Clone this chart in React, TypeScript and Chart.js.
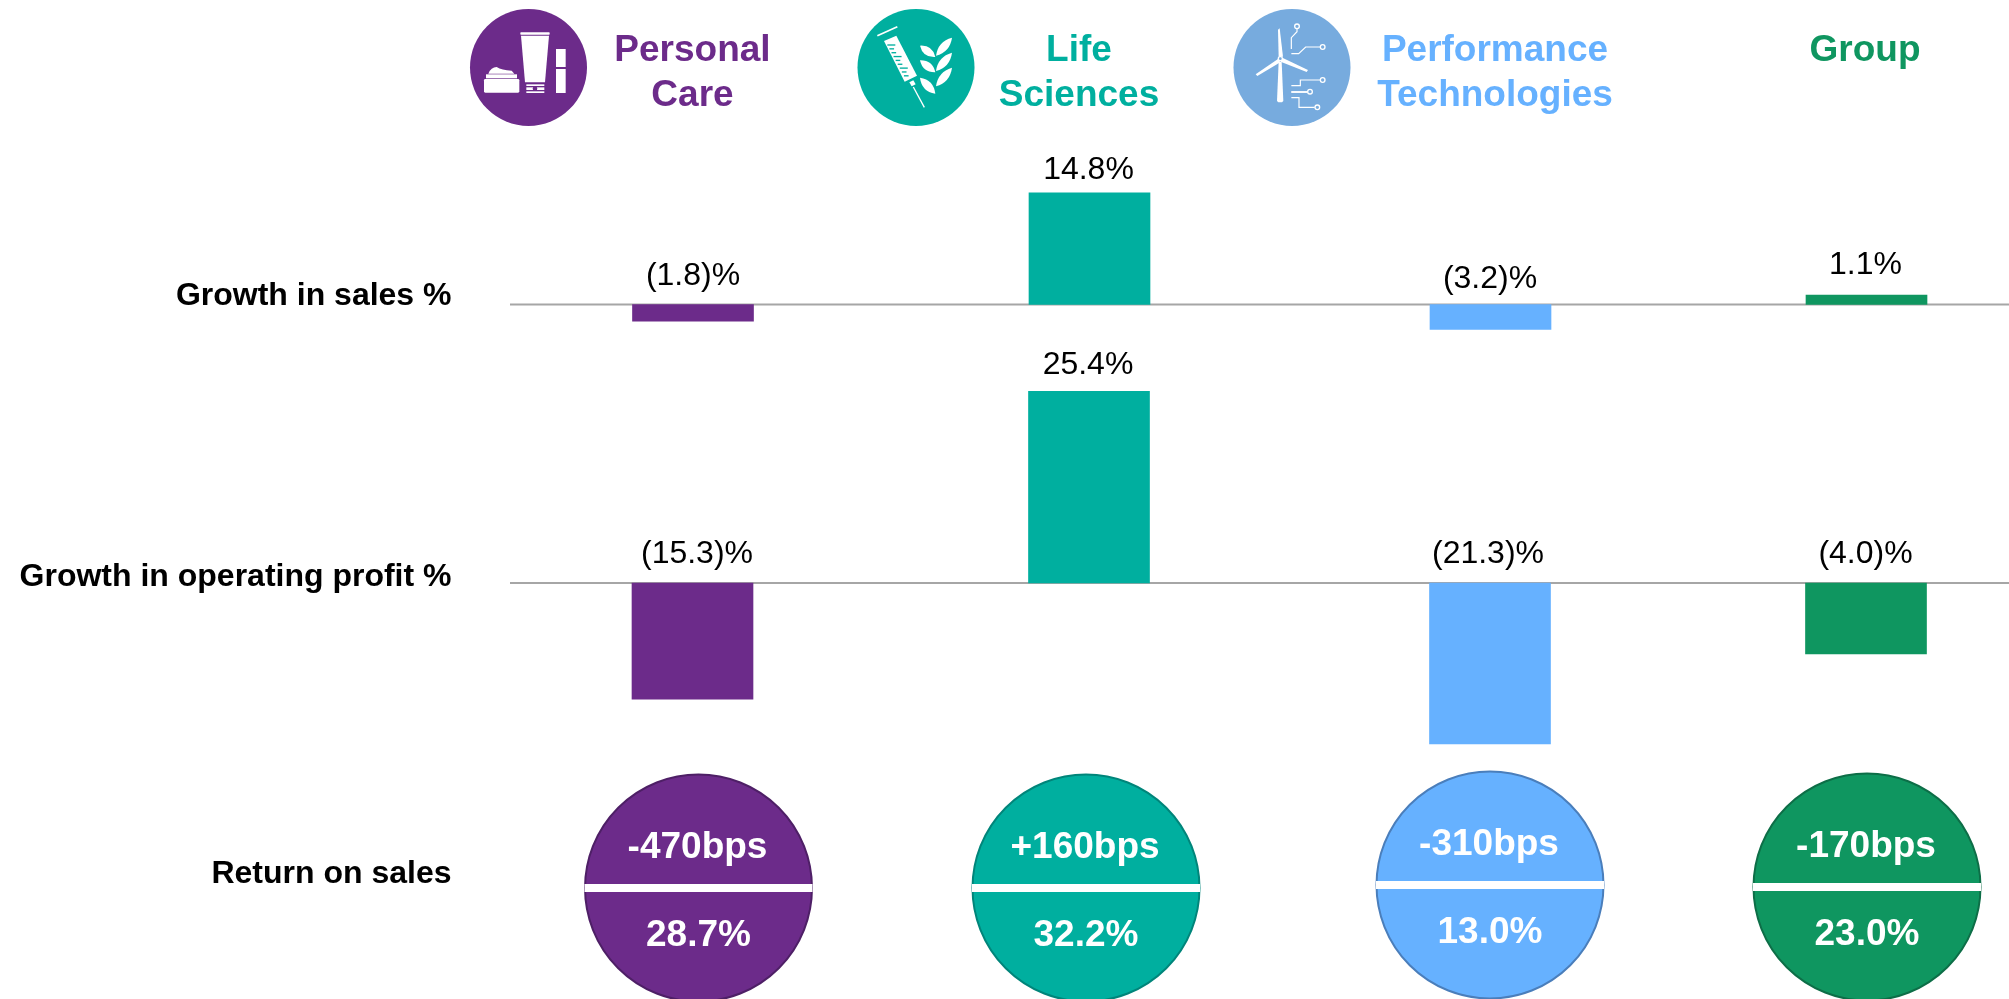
import React, { useEffect, useRef } from "react";
import { Chart, registerables } from "chart.js";

Chart.register(...registerables);

// ---- data ----
const segments = ["Personal Care", "Life Sciences", "Performance Technologies", "Group"];
const headerLines = [["Personal", "Care"], ["Life", "Sciences"], ["Performance", "Technologies"], ["Group"]];
const rowTitles = ["Growth in sales %", "Growth in operating profit %", "Return on sales"];
// bar lengths as drawn in the picture
const salesGrowthBars = [-2.2, 14.8, -3.3, 1.25];
const profitGrowthBars = [-15.4, 25.4, -21.3, -9.4];
// printed labels
const salesGrowthLabels = ["(1.8)%", "14.8%", "(3.2)%", "1.1%"];
const profitGrowthLabels = ["(15.3)%", "25.4%", "(21.3)%", "(4.0)%"];
const returnOnSales = [28.7, 32.2, 13.0, 23.0];
const bpsChange = [-470, 160, -310, -170];

// ---- layout and style (not data) ----
const W = 2009;
const H = 999;
const FONT = '"Liberation Sans", Arial, sans-serif';
const colors = ["#6C2B8A", "#00AF9F", "#66B1FF", "#0F9660"];
const circleBorders = ["#4E1F66", "#00857A", "#4A7EBB", "#0D6E47"];
const iconColors = ["#6C2B8A", "#00AF9F", "#77ABDE"];
const barCentres = [693, 1089.5, 1490.5, 1866.5];
const circleCentres = [698.5, 1086, 1490, 1867];
const circleLift = [0, 0, 3, 1];
const headerCentres = [692.5, 1079, 1495, 1865];
const iconCentres = [528.5, 916, 1292];
const iconOrigins = [465, 852, 1228];
const salesLabelPos: [number, number][] = [[693, 285], [1088.5, 179], [1490, 288], [1865.5, 274]];
const profitLabelPos: [number, number][] = [[697, 563], [1088, 374], [1488, 563], [1865.5, 563]];
const AXIS_1 = 304.5;
const AXIS_2 = 583;
const PX_PER_UNIT = 7.55;
const CIRCLE_Y = 888;

function leaf(ctx: CanvasRenderingContext2D, x1: number, y1: number, x2: number, y2: number, bulge: number) {
  const mx = (x1 + x2) / 2;
  const my = (y1 + y2) / 2;
  const dx = x2 - x1;
  const dy = y2 - y1;
  const nx = (-dy / Math.hypot(dx, dy)) * bulge;
  const ny = (dx / Math.hypot(dx, dy)) * bulge;
  ctx.beginPath();
  ctx.moveTo(x1, y1);
  ctx.quadraticCurveTo(mx + nx, my + ny, x2, y2);
  ctx.quadraticCurveTo(mx - nx, my - ny, x1, y1);
  ctx.fill();
}

function poly(ctx: CanvasRenderingContext2D, pts: number[][]) {
  ctx.beginPath();
  pts.forEach((p, i) => (i ? ctx.lineTo(p[0], p[1]) : ctx.moveTo(p[0], p[1])));
  ctx.closePath();
  ctx.fill();
}

function path(ctx: CanvasRenderingContext2D, pts: number[][]) {
  ctx.beginPath();
  pts.forEach((p, i) => (i ? ctx.lineTo(p[0], p[1]) : ctx.moveTo(p[0], p[1])));
  ctx.stroke();
}

function drawCareIcon(ctx: CanvasRenderingContext2D, bg: string) {
  ctx.fillRect(63, 208, 93, 12);
  ctx.beginPath();
  ctx.roundRect(57, 222, 106, 41, 4);
  ctx.fill();
  ctx.beginPath();
  ctx.moveTo(70, 206);
  ctx.quadraticCurveTo(78, 186, 95, 186);
  ctx.quadraticCurveTo(110, 196, 140, 197);
  ctx.lineTo(148, 206);
  ctx.closePath();
  ctx.fill();
  ctx.beginPath();
  ctx.roundRect(166, 82, 88, 7, 2);
  ctx.fill();
  poly(ctx, [[168, 92], [252, 92], [240, 232], [180, 232]]);
  ctx.fillRect(184, 238, 54, 5);
  ctx.fillRect(184, 247, 54, 8);
  ctx.fillRect(184, 259, 54, 5);
  ctx.fillStyle = bg;
  ctx.beginPath();
  ctx.arc(210, 251, 7, 0, Math.PI * 2);
  ctx.fill();
  ctx.fillStyle = "#fff";
  ctx.fillRect(273, 132, 29, 54);
  ctx.fillRect(273, 192, 29, 72);
}

function drawSciencesIcon(ctx: CanvasRenderingContext2D, bg: string) {
  ctx.lineWidth = 5;
  path(ctx, [[76, 92], [136, 65]]);
  poly(ctx, [[96, 108], [133, 92], [195, 212], [158, 230]]);
  ctx.fillStyle = bg;
  for (let i = 0; i < 9; i++) {
    const t = i / 9;
    const x = 106 + t * 56;
    const y = 118 + t * 104;
    ctx.fillRect(x, y, i % 3 === 0 ? 24 : 14, 4);
  }
  ctx.fillStyle = "#fff";
  poly(ctx, [[172, 232], [184, 226], [191, 238], [179, 244]]);
  ctx.lineWidth = 4;
  path(ctx, [[184, 246], [217, 307]]);
  leaf(ctx, 204, 122, 250, 156, 24);
  leaf(ctx, 204, 166, 250, 202, 24);
  leaf(ctx, 204, 218, 250, 266, 25);
  leaf(ctx, 300, 98, 252, 152, 24);
  leaf(ctx, 300, 143, 252, 198, 24);
  leaf(ctx, 300, 188, 252, 244, 24);
}

function drawPerformanceIcon(ctx: CanvasRenderingContext2D, bg: string) {
  poly(ctx, [[152, 170], [161, 170], [166, 288], [162, 292], [151, 292], [147, 288]]);
  poly(ctx, [[150, 74], [155, 70], [165, 155], [152, 155]]);
  poly(ctx, [[163, 158], [240, 195], [236, 201], [158, 170]]);
  poly(ctx, [[150, 162], [157, 172], [88, 213], [83, 208]]);
  ctx.beginPath();
  ctx.arc(157, 161, 8, 0, Math.PI * 2);
  ctx.fill();
  ctx.fillStyle = bg;
  ctx.beginPath();
  ctx.arc(157, 161, 4, 0, Math.PI * 2);
  ctx.fill();
  ctx.fillStyle = "#fff";
  ctx.lineWidth = 3.5;
  const traces = [
    [[190, 132], [190, 98], [207, 80], [207, 71]],
    [[190, 146], [212, 146], [233, 126], [276, 126]],
    [[190, 242], [217, 242], [217, 225], [276, 225]],
    [[190, 261], [238, 261]],
    [[190, 278], [213, 278], [213, 307], [260, 307]],
  ];
  traces.forEach((t) => path(ctx, t));
  ctx.lineWidth = 4;
  [[207, 64], [284, 126], [284, 225], [246, 260], [268, 307]].forEach(([x, y]) => {
    ctx.beginPath();
    ctx.arc(x, y, 7, 0, Math.PI * 2);
    ctx.stroke();
  });
  ctx.lineWidth = 5;
  path(ctx, [[190, 261], [238, 261]]);
}

const iconPainters = [drawCareIcon, drawSciencesIcon, drawPerformanceIcon];

const decorations = {
  id: "decorations",
  beforeDatasetsDraw(chart: any) {
    const { ctx, scales } = chart;
    ctx.save();
    ctx.strokeStyle = "#A6A6A6";
    ctx.lineWidth = 2;
    ["y1", "y2"].forEach((id) => {
      const y = scales[id].getPixelForValue(0);
      ctx.beginPath();
      ctx.moveTo(510, y);
      ctx.lineTo(W, y);
      ctx.stroke();
    });
    ctx.restore();
  },
  afterDatasetsDraw(chart: any) {
    const { ctx } = chart;
    ctx.save();
    // header icons
    iconCentres.forEach((cx, i) => {
      ctx.fillStyle = iconColors[i];
      ctx.beginPath();
      ctx.arc(cx, 67.5, 58.5, 0, Math.PI * 2);
      ctx.fill();
      ctx.save();
      ctx.translate(iconOrigins[i], 5);
      ctx.scale(1 / 3, 1 / 3);
      ctx.fillStyle = "#fff";
      ctx.strokeStyle = "#fff";
      iconPainters[i](ctx, iconColors[i]);
      ctx.restore();
    });
    // headers
    ctx.textAlign = "center";
    ctx.textBaseline = "alphabetic";
    ctx.font = `bold 37px ${FONT}`;
    headerLines.forEach((lines, i) => {
      ctx.fillStyle = colors[i];
      lines.forEach((t, j) => ctx.fillText(t, headerCentres[i], 61 + j * 45));
    });
    // row titles
    ctx.fillStyle = "#000";
    ctx.textAlign = "right";
    ctx.font = `bold 32px ${FONT}`;
    ctx.fillText(rowTitles[0], 451.5, 305);
    ctx.fillText(rowTitles[1], 451.5, 586);
    ctx.fillText(rowTitles[2], 451.5, 883);
    // bar labels
    ctx.textAlign = "center";
    ctx.font = `32px ${FONT}`;
    salesGrowthLabels.forEach((t, i) => ctx.fillText(t, salesLabelPos[i][0], salesLabelPos[i][1]));
    profitGrowthLabels.forEach((t, i) => ctx.fillText(t, profitLabelPos[i][0], profitLabelPos[i][1]));
    // circle contents
    const meta = chart.getDatasetMeta(2);
    meta.data.forEach((pt: any, i: number) => {
      const { x, y } = pt.getProps(["x", "y"], true);
      ctx.fillStyle = "#fff";
      ctx.fillRect(x - 114, y - 4, 228, 8);
      ctx.font = `bold 37px ${FONT}`;
      const bps = bpsChange[i];
      ctx.fillText(`${bps > 0 ? "+" : ""}${bps}bps`, x - 1, y - 30);
      ctx.fillText(`${returnOnSales[i].toFixed(1)}%`, x, y + 58);
    });
    ctx.restore();
  },
};

export default function App() {
  const ref = useRef<HTMLCanvasElement>(null);
  useEffect(() => {
    document.body.style.margin = "0";
    document.body.style.overflow = "hidden";
    const chart = new Chart(ref.current as HTMLCanvasElement, {
      type: "bar",
      data: {
        labels: segments,
        datasets: [
          {
            label: "Growth in sales %",
            data: salesGrowthBars.map((y, i) => ({ x: barCentres[i], y })),
            backgroundColor: colors,
            barThickness: 121,
            grouped: false,
            yAxisID: "y1",
            order: 2,
          },
          {
            label: "Growth in operating profit %",
            data: profitGrowthBars.map((y, i) => ({ x: barCentres[i] - 0.5, y })),
            backgroundColor: colors,
            barThickness: 121,
            grouped: false,
            yAxisID: "y2",
            order: 2,
          },
          {
            type: "scatter",
            label: "Return on sales",
            data: returnOnSales.map((_, i) => ({ x: circleCentres[i], y: circleLift[i] })),
            backgroundColor: colors,
            borderColor: circleBorders,
            borderWidth: 2,
            pointRadius: 113.5,
            pointHoverRadius: 113.5,
            yAxisID: "y3",
            clip: false,
            order: 1,
          },
        ] as any,
      },
      options: {
        animation: false,
        responsive: false,
        layout: { padding: 0, autoPadding: false },
        plugins: { legend: { display: false }, tooltip: { enabled: false } },
        scales: {
          x: { type: "linear", min: 0, max: W, display: false, offset: false },
          y1: { display: false, min: -(H - AXIS_1) / PX_PER_UNIT, max: AXIS_1 / PX_PER_UNIT },
          y2: { display: false, min: -(H - AXIS_2) / PX_PER_UNIT, max: AXIS_2 / PX_PER_UNIT },
          y3: { display: false, min: -(H - CIRCLE_Y), max: CIRCLE_Y },
        },
      },
      plugins: [decorations],
    } as any);
    return () => chart.destroy();
  }, []);
  return <canvas ref={ref} width={W} height={H} style={{ display: "block", width: W, height: H }} />;
}
